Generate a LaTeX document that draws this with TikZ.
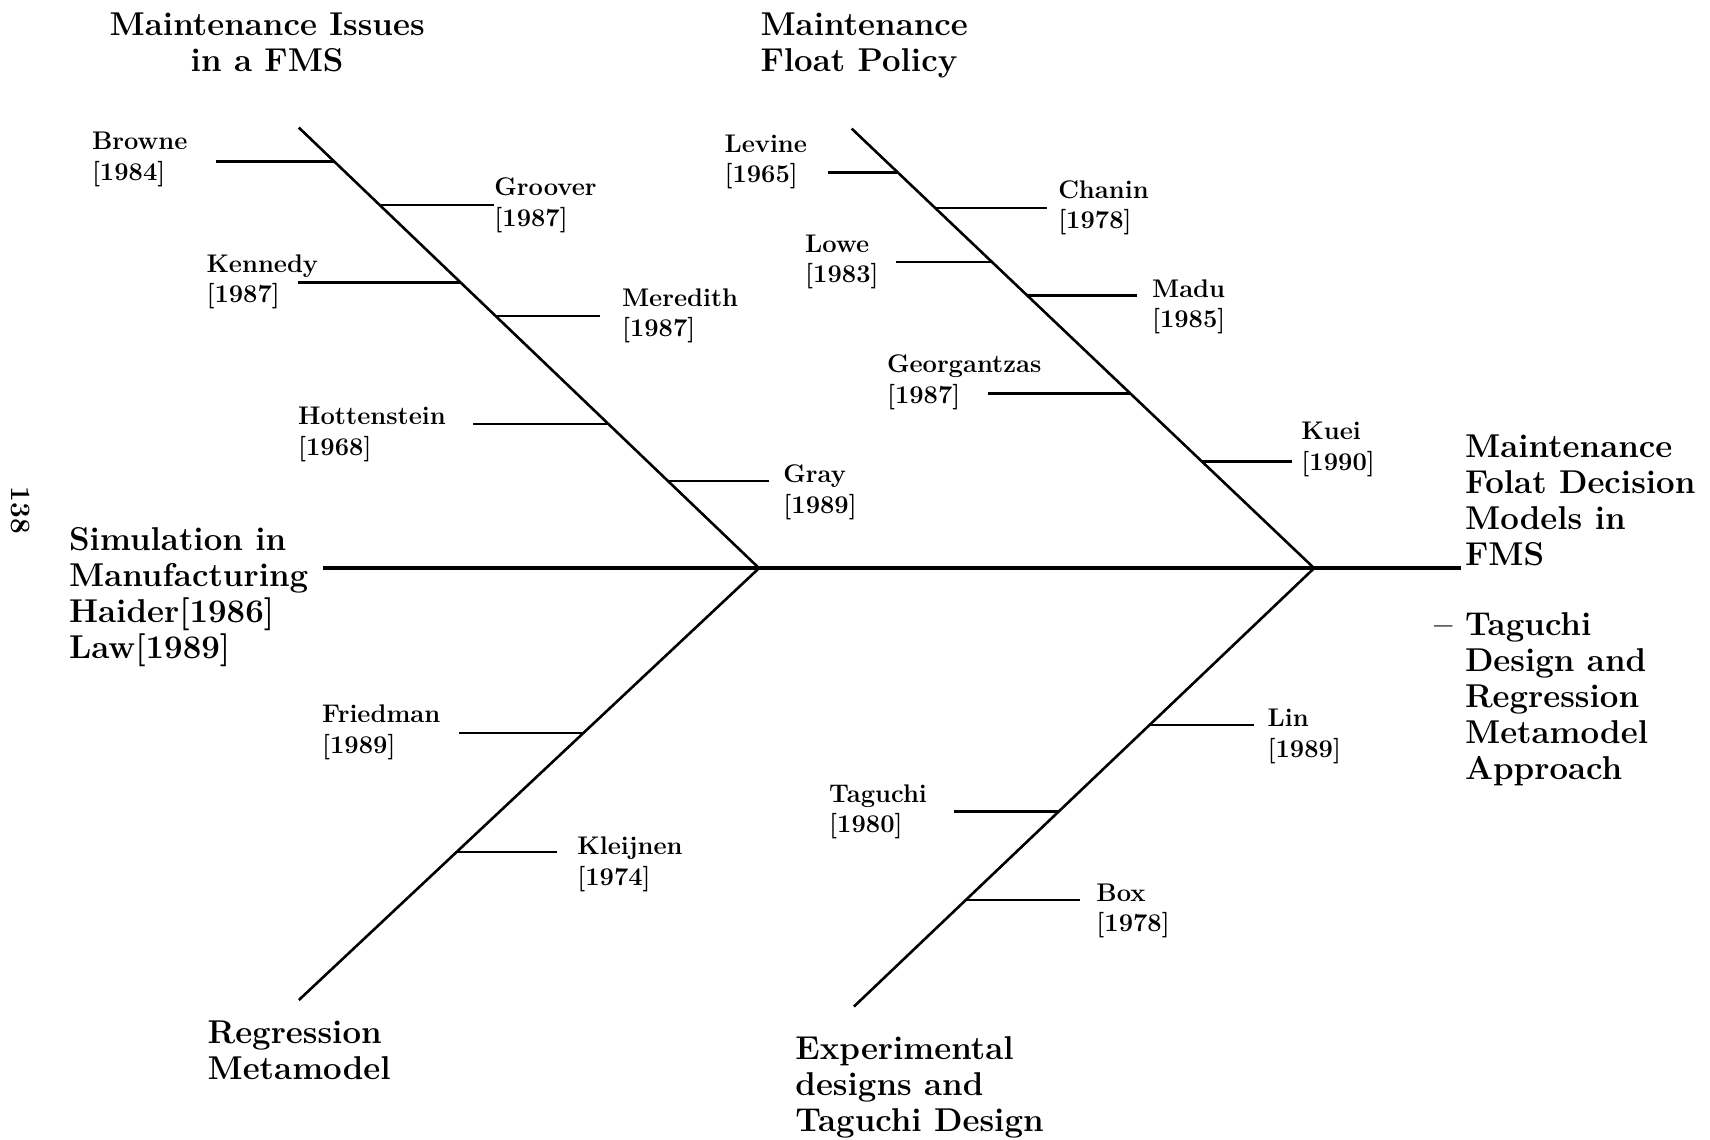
\documentclass[tikz,border=0pt]{standalone}
\usetikzlibrary{positioning}
\tikzset{
  fish spine/.style={line width=1.7pt},
  fish bone/.style={line width=1.3pt},
  fish rib/.style={line width=1.2pt},
  fish title/.style={font=\bfseries\fontsize{16.5}{18}\selectfont,align=left,
    inner sep=0pt,anchor=north west},
  fish cite/.style={font=\bfseries\fontsize{12.75}{15.3}\selectfont,align=left,
    inner sep=0pt,anchor=north west}
}

\begin{document}
\begin{tikzpicture}[x=0.5453pt,y=-0.5453pt]
  \useasboundingbox (0,0) rectangle (1568,1045);
  % spine and bones
  \coordinate (tail) at (296,521);
  \coordinate (midhead) at (696,521);
  \coordinate (head) at (1205,521);
  \coordinate (nose) at (1340,521);
  \coordinate (ulTop) at (274,117);
  \coordinate (llEnd) at (274,917);
  \coordinate (urTop) at (781,118);
  \coordinate (lrEnd) at (783,923);
  \draw[fish spine] (tail) -- (nose);
  \draw[fish bone] (ulTop) -- (midhead) -- (llEnd);
  \draw[fish bone] (urTop) -- (head) -- (lrEnd);

  % categories and effect
  \node[fish title,align=center,anchor=north] (issues) at (245,11) {Maintenance Issues\\in a FMS};
  \node[fish title] (float) at (697,11) {Maintenance\\Float Policy};
  \node[fish title] (sim) at (63,483) {Simulation in\\Manufacturing\\Haider[1986]\\Law[1989]};
  \node[fish title] (regr) at (190,936) {Regression\\Metamodel};
  \node[fish title] (expd) at (729,950) {Experimental\\designs and\\Taguchi Design};
  \node[fish title] (effect) at (1343,398) {Maintenance\\Folat Decision\\Models in\\FMS};
  \node[fish title] (approach) at (1343,561) {\llap{-- }Taguchi\\Design and\\Regression\\Metamodel\\Approach};
  \node[rotate=-90,font=\bfseries\fontsize{14}{14}\selectfont,inner sep=0pt] (page) at (19,468) {138};

  % maintenance issues in a FMS
  \coordinate (bBrowne) at (306.4,148);  \coordinate (eBrowne) at (198,148);
  \coordinate (bGroover) at (348.2,188); \coordinate (eGroover) at (453,188);
  \coordinate (bKennedy) at (422.3,259); \coordinate (eKennedy) at (273,259);
  \coordinate (bMeredith) at (454.7,290); \coordinate (eMeredith) at (550,290);
  \coordinate (bHotten) at (558.1,389);  \coordinate (eHotten) at (434,389);
  \coordinate (bGray) at (612.4,441);    \coordinate (eGray) at (705,441);
  \draw[fish rib] (eBrowne) -- (bBrowne);
  \draw[fish rib] (bGroover) -- (eGroover);
  \draw[fish rib] (eKennedy) -- (bKennedy);
  \draw[fish rib] (bMeredith) -- (eMeredith);
  \draw[fish rib] (eHotten) -- (bHotten);
  \draw[fish rib] (bGray) -- (eGray);
  \node[fish cite] (browne) at (84,121) {Browne\\{[1984]}};
  \node[fish cite] (groover) at (453,163) {Groover\\{[1987]}};
  \node[fish cite] (kennedy) at (189,233) {Kennedy\\{[1987]}};
  \node[fish cite] (meredith) at (570,264) {Meredith\\{[1987]}};
  \node[fish cite] (hotten) at (273,373) {Hottenstein\\{[1968]}};
  \node[fish cite] (gray) at (718,426) {Gray\\{[1989]}};

  % maintenance float policy
  \coordinate (bLevine) at (823.1,158);  \coordinate (eLevine) at (759,158);
  \coordinate (bChanin) at (857.8,191);  \coordinate (eChanin) at (960,191);
  \coordinate (bLowe) at (909.4,240);    \coordinate (eLowe) at (822,240);
  \coordinate (bMadu) at (942.0,271);    \coordinate (eMadu) at (1043,271);
  \coordinate (bGeorg) at (1036.7,361);  \coordinate (eGeorg) at (906,361);
  \coordinate (bKuei) at (1101.9,423);   \coordinate (eKuei) at (1185,423);
  \draw[fish rib] (eLevine) -- (bLevine);
  \draw[fish rib] (bChanin) -- (eChanin);
  \draw[fish rib] (eLowe) -- (bLowe);
  \draw[fish rib] (bMadu) -- (eMadu);
  \draw[fish rib] (eGeorg) -- (bGeorg);
  \draw[fish rib] (bKuei) -- (eKuei);
  \node[fish cite] (levine) at (664,123) {Levine\\{[1965]}};
  \node[fish cite] (chanin) at (970,165) {Chanin\\{[1978]}};
  \node[fish cite] (lowe) at (738,215) {Lowe\\{[1983]}};
  \node[fish cite] (madu) at (1056,256) {Madu\\{[1985]}};
  \node[fish cite] (georg) at (813,325) {Georgantzas\\{[1987]}};
  \node[fish cite] (kuei) at (1193,387) {Kuei\\{[1990]}};

  % regression metamodel
  \coordinate (bFriedman) at (535.1,672); \coordinate (eFriedman) at (421,672);
  \coordinate (bKleijnen) at (418.9,781); \coordinate (eKleijnen) at (511,781);
  \draw[fish rib] (eFriedman) -- (bFriedman);
  \draw[fish rib] (bKleijnen) -- (eKleijnen);
  \node[fish cite] (friedman) at (295,646) {Friedman\\{[1989]}};
  \node[fish cite] (kleijnen) at (529,767) {Kleijnen\\{[1974]}};

  % experimental designs
  \coordinate (bLin) at (1053.8,665);    \coordinate (eLin) at (1150,665);
  \coordinate (bTaguchi) at (970.9,744); \coordinate (eTaguchi) at (875,744);
  \coordinate (bBox) at (885.9,825);     \coordinate (eBox) at (990,825);
  \draw[fish rib] (bLin) -- (eLin);
  \draw[fish rib] (eTaguchi) -- (bTaguchi);
  \draw[fish rib] (bBox) -- (eBox);
  \node[fish cite] (lin) at (1162,650) {Lin\\{[1989]}};
  \node[fish cite] (taguchi) at (760,719) {Taguchi\\{[1980]}};
  \node[fish cite] (box) at (1005,810) {Box\\{[1978]}};
\end{tikzpicture}
\end{document}
